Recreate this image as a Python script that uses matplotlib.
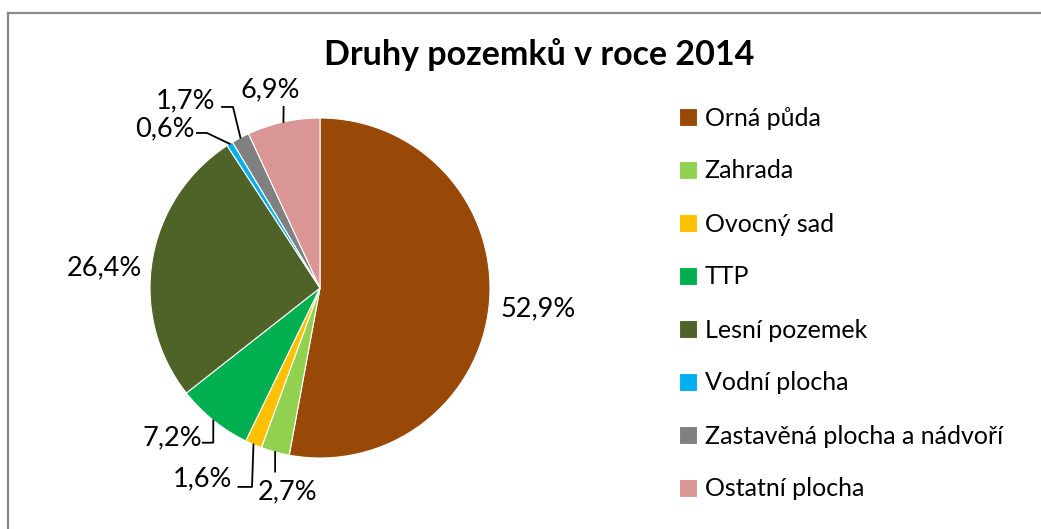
import numpy as np
import matplotlib
matplotlib.use('Agg')
import matplotlib.pyplot as plt
from matplotlib.lines import Line2D

plt.rcParams['font.family'] = ['Lato', 'DejaVu Sans']

categories = ['Orná půda', 'Zahrada', 'Ovocný sad', 'TTP', 'Lesní pozemek',
              'Vodní plocha', 'Zastavěná plocha a nádvoří', 'Ostatní plocha']
shares = [52.9, 2.7, 1.6, 7.2, 26.4, 0.6, 1.7, 6.9]
colors = ['#984807', '#92D050', '#FFC000', '#00B050', '#4F6228',
          '#00B0F0', '#808080', '#D99694']
title = 'Druhy pozemků v roce 2014'

# label placement (in pie radius units): label centre, elbow point, end of
# the horizontal leg (None = no leader line)
label_pos = [(1.28, -0.12), (-0.19, -1.20), (-0.69, -1.12), (-0.87, -0.88),
             (-1.27, 0.12), (-0.91, 0.935), (-0.79, 1.10), (-0.29, 1.165)]
elbows = [None, (-0.264, -1.08, None), (-0.40, -1.17, -0.48),
          (-0.628, -0.91, -0.69), None, (-0.665, 0.912, -0.724),
          (-0.512, 1.065, -0.576), (-0.214, 1.065, None)]

fig = plt.figure(figsize=(10.41, 5.29), dpi=100)
W, H = 1041, 529
ax = fig.add_axes([150 / W, (H - 458) / H, 340 / W, 340 / H])
wedges, _ = ax.pie(shares, colors=colors, startangle=90, counterclock=False,
                   radius=1, wedgeprops=dict(linewidth=0.8, edgecolor='white'))
ax.set_xlim(-1, 1)
ax.set_ylim(-1, 1)
ax.set_aspect('equal')
ax.axis('off')

for w, v, (lx, ly), el in zip(wedges, shares, label_pos, elbows):
    ang = np.deg2rad((w.theta1 + w.theta2) / 2)
    ex, ey = np.cos(ang), np.sin(ang)
    if el is not None:
        bx, by, hx = el
        xs = [ex, bx] + ([hx] if hx is not None else [])
        ys = [ey, by] + ([by] if hx is not None else [])
        ax.plot(xs, ys, color='black', lw=1.3, clip_on=False)
    ax.text(lx, ly, ('%.1f%%' % v).replace('.', ','), ha='center',
            va='center', fontsize=19.5, clip_on=False)

fig.text(539 / W, 1 - 55 / H, title, ha='center', va='center',
         fontsize=24.5, fontweight='bold')

fig.legend(wedges, categories, loc='upper left',
           bbox_to_anchor=(656 / W, 1 - 84 / H), frameon=False,
           fontsize=18, handlelength=0.75, handleheight=0.75,
           handletextpad=0.3, labelspacing=1.2)

# chart area frame (only left and top edges visible)
fig.add_artist(Line2D([8 / W, 8 / W], [0, 1 - 13 / H], color='#898989',
                      lw=1.6, transform=fig.transFigure))
fig.add_artist(Line2D([8 / W, 1], [1 - 13 / H, 1 - 13 / H], color='#898989',
                      lw=1.6, transform=fig.transFigure))

fig.savefig('out.png', dpi=100, facecolor='white')
